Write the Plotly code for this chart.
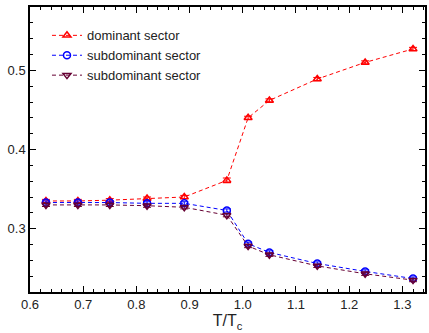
import plotly.graph_objects as go

x = [0.63, 0.69, 0.75, 0.82, 0.89, 0.97, 1.01, 1.05, 1.14, 1.23, 1.32]
dominant = [0.335, 0.335, 0.336, 0.338, 0.340, 0.361, 0.440, 0.462, 0.489, 0.510, 0.527]
dominant_err = [0.002, 0.002, 0.002, 0.002, 0.002, 0.003, 0.002, 0.002, 0.002, 0.002, 0.002]
sub1 = [0.333, 0.333, 0.333, 0.332, 0.332, 0.323, 0.281, 0.270, 0.256, 0.246, 0.237]
sub1_err = [0.002] * 11
sub2 = [0.330, 0.330, 0.330, 0.329, 0.327, 0.317, 0.278, 0.267, 0.253, 0.243, 0.235]
sub2_err = [0.002] * 11

names = ["dominant sector", "subdominant sector", "subdominant sector"]
colors = ["#ff0000", "#0000ff", "#660033"]
symbols = ["triangle-up-open", "circle-open", "triangle-down-open"]

fig = go.Figure()
for y, e, n, c, s in zip([dominant, sub1, sub2], [dominant_err, sub1_err, sub2_err], names, colors, symbols):
    fig.add_trace(go.Scatter(
        x=x, y=y, name=n, mode="lines+markers",
        line=dict(color=c, width=1, dash="4px,3px"),
        marker=dict(symbol=s, size=7, color=c, line=dict(width=1.5, color=c)),
        error_y=dict(type="data", array=e, visible=True, color=c, thickness=1, width=4),
    ))

axis_common = dict(
    showline=True, linecolor="black", linewidth=1.5, mirror="ticks",
    ticks="inside", ticklen=6, tickwidth=1, tickcolor="black",
    showgrid=False, zeroline=False,
    tickfont=dict(family="Liberation Sans, Arial", size=13, color="#222"),
)

fig.update_xaxes(range=[0.6, 1.3425], dtick=0.1, tickformat=".1f",
                 minor=dict(dtick=0.02, ticks="inside", ticklen=3, tickcolor="black"),
                 title=dict(text="T/T<sub>c</sub>", font=dict(family="Liberation Sans, Arial", size=16, color="#222"), standoff=2),
                 **axis_common)
fig.update_yaxes(range=[0.22, 0.58], tickvals=[0.3, 0.4, 0.5], tickformat=".1f",
                 minor=dict(dtick=0.02, ticks="inside", ticklen=3, tickcolor="black"),
                 **axis_common)

fig.update_layout(
    width=429, height=333,
    margin=dict(l=30, r=2, t=7, b=41),
    plot_bgcolor="white", paper_bgcolor="white",
    showlegend=True,
    legend=dict(x=0.043, y=0.953, xanchor="left", yanchor="top",
                bgcolor="rgba(0,0,0,0)", font=dict(family="Liberation Sans, Arial", size=13, color="#222"),
                tracegroupgap=0, itemwidth=30),
    font=dict(family="Liberation Sans, Arial"),
)

fig.write_html("out.html")
